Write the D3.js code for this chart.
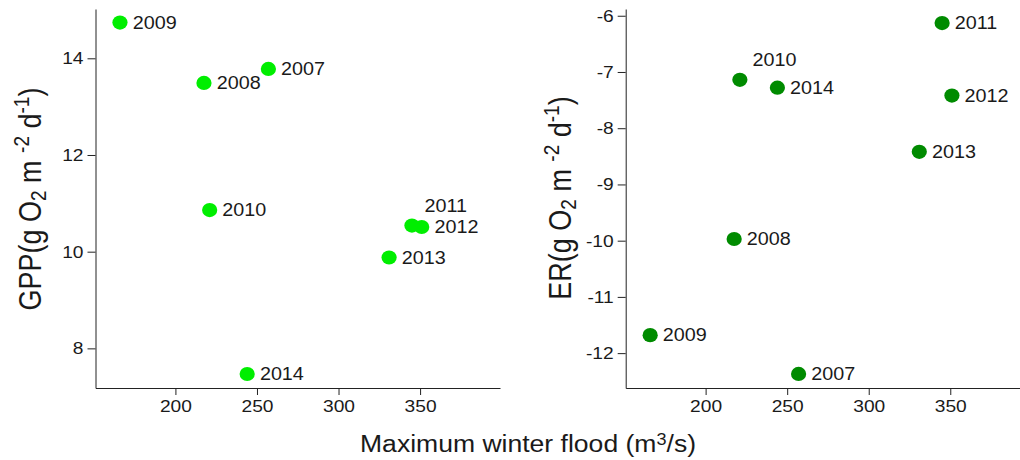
<!DOCTYPE html>
<html>
<head>
<meta charset="utf-8">
<script src="https://cdn.jsdelivr.net/npm/d3@7"></script>
<style>
  body { margin: 0; background: #fff; }
  svg { display: block; font-family: "Liberation Sans", Arial, sans-serif; }
</style>
</head>
<body>
<div id="chart"></div>
<script>
// data
const years = ['2007', '2008', '2009', '2010', '2011', '2012', '2013', '2014'];
const winterFlood = [257, 217.5, 166, 221, 345, 351, 331, 244];
const gpp = [13.78, 13.49, 14.74, 10.86, 10.54, 10.51, 9.88, 7.47];
const er = [-12.37, -9.97, -11.68, -7.14, -6.13, -7.42, -8.42, -7.28];

const xTicks = [200, 250, 300, 350];
const gppTicks = [8, 10, 12, 14];
const erTicks = [-12, -11, -10, -9, -8, -7, -6];

const W = 1020;
const H = 460;
const SX = 1.13; // the reference is a bit wider than tall

const svg = d3.select('#chart').append('svg')
    .attr('width', W)
    .attr('height', H);

const drawPanel = (opts) => {
  const xScale = d3.scaleLinear().domain([151, 399]).range([opts.left, opts.left + 404.5]);
  const yScale = d3.scaleLinear().domain(opts.yDomain).range([388, 9]);
  const g = svg.append('g');

  const xAxis = g.append('g')
      .attr('transform', 'translate(0,388)')
      .call(d3.axisBottom(xScale).tickValues(xTicks)
          .tickSize(7).tickSizeOuter(0).tickPadding(5));
  const yAxis = g.append('g')
      .attr('transform', `translate(${opts.left},0)`)
      .call(d3.axisLeft(yScale).tickValues(opts.ticks)
          .tickFormat((d) => String(d))
          .tickSize(8).tickSizeOuter(0).tickPadding(4));

  [xAxis, yAxis].forEach((ax) => {
    ax.select('.domain').attr('stroke', '#222');
    ax.selectAll('.tick line').attr('stroke', '#222');
    ax.selectAll('.tick text')
        .attr('fill', '#1a1a1a')
        .style('font-size', '17px')
        .style('font-family', '"Liberation Sans", Arial, sans-serif');
  });
  xAxis.selectAll('.tick text').attr('transform', `scale(${SX},1)`);
  yAxis.selectAll('.tick text')
      .attr('x', -12 / SX)
      .attr('transform', `scale(${SX},1)`);

  g.selectAll('ellipse.pt')
      .data(years)
      .enter()
      .append('ellipse')
      .attr('class', 'pt')
      .attr('cx', (d, i) => xScale(winterFlood[i]))
      .attr('cy', (d, i) => yScale(opts.values[i]))
      .attr('rx', 7.6)
      .attr('ry', 7.1)
      .attr('fill', opts.color);

  g.selectAll('g.lab')
      .data(years)
      .enter()
      .append('g')
      .attr('class', 'lab')
      .attr('transform', (d, i) => {
        const up = opts.raised.includes(d) ? -20 : 0;
        return `translate(${xScale(winterFlood[i]) + 12.7},${yScale(opts.values[i]) + up})`;
      })
      .append('text')
      .attr('transform', `scale(${SX},1)`)
      .attr('dy', '0.36em')
      .attr('fill', '#1a1a1a')
      .style('font-size', '17.5px')
      .text((d) => d);

  // rotated y title with sub/superscripts
  const t = g.append('text')
      .attr('transform', `translate(${opts.titleX},${opts.titleY}) scale(${SX},1) rotate(-90)`)
      .attr('text-anchor', 'middle')
      .attr('fill', '#1a1a1a')
      .style('font-size', '27px');
  t.append('tspan').text(opts.name + '(g O');
  t.append('tspan').attr('baseline-shift', '-25%').style('font-size', '19px').text('2');
  t.append('tspan').text(' m ');
  t.append('tspan').attr('baseline-shift', '55%').style('font-size', '19px').text('-2');
  t.append('tspan').text(' d');
  t.append('tspan').attr('baseline-shift', '55%').style('font-size', '19px').text('-1');
  t.append('tspan').text(')');
};

drawPanel({
  left: 95.5, yDomain: [7.18, 15.02], ticks: gppTicks, values: gpp,
  color: '#00ee00', raised: ['2011'], name: 'GPP', titleX: 41, titleY: 199,
});
drawPanel({
  left: 625.7, yDomain: [-12.62, -5.88], ticks: erTicks, values: er,
  color: '#008b00', raised: ['2010'], name: 'ER', titleX: 571, titleY: 198,
});

const xt = svg.append('text')
    .attr('transform', `translate(528,452) scale(${SX},1)`)
    .attr('text-anchor', 'middle')
    .attr('fill', '#1a1a1a')
    .style('font-size', '23.5px');
xt.append('tspan').text('Maximum winter flood (m');
xt.append('tspan').attr('baseline-shift', '50%').style('font-size', '16px').text('3');
xt.append('tspan').text('/s)');
</script>
</body>
</html>
